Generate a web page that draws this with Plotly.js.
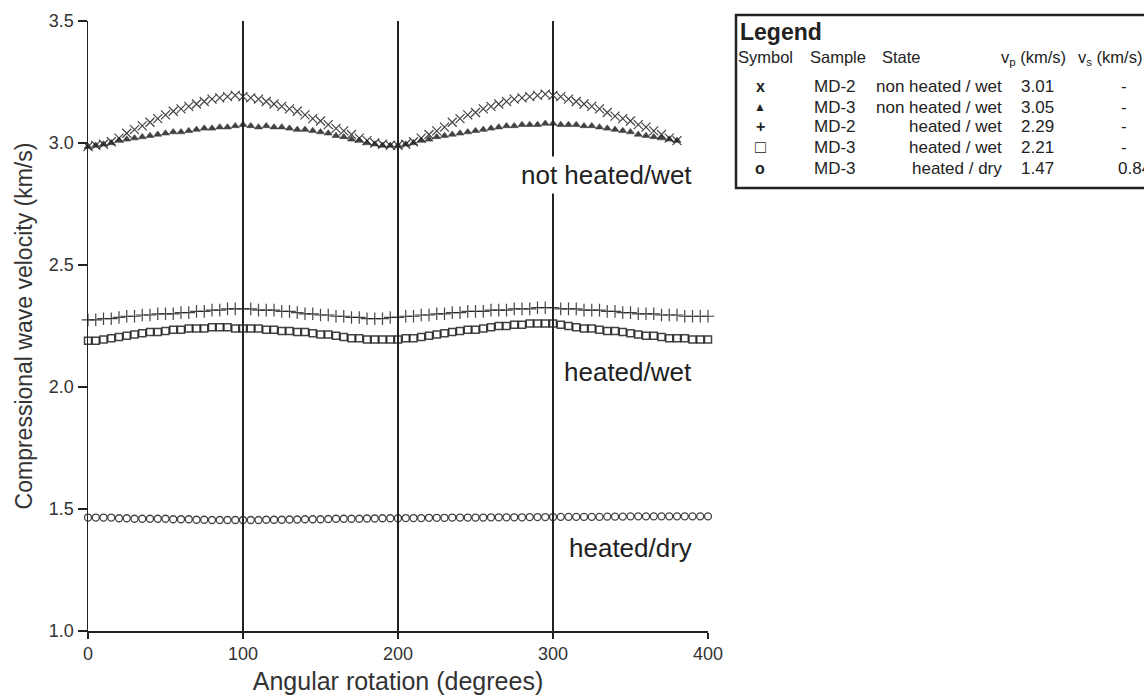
<!DOCTYPE html>
<html>
<head>
<meta charset="utf-8">
<script src="https://cdn.plot.ly/plotly-3.0.1.min.js"></script>
<style>
  html, body { margin: 0; padding: 0; background: #fff; }
  #chart { width: 1144px; height: 699px; }
</style>
</head>
<body>
<div id="chart"></div>
<script>
// Rotation angles (degrees) at which velocities were measured
const anglesWet = [0,5,10,15,20,25,30,35,40,45,50,55,60,65,70,75,80,85,90,95,100,105,110,115,120,125,130,135,140,145,150,155,160,165,170,175,180,185,190,195,200,205,210,215,220,225,230,235,240,245,250,255,260,265,270,275,280,285,290,295,300,305,310,315,320,325,330,335,340,345,350,355,360,365,370,375,380];
const anglesHeated = [0,5,10,15,20,25,30,35,40,45,50,55,60,65,70,75,80,85,90,95,100,105,110,115,120,125,130,135,140,145,150,155,160,165,170,175,180,185,190,195,200,205,210,215,220,225,230,235,240,245,250,255,260,265,270,275,280,285,290,295,300,305,310,315,320,325,330,335,340,345,350,355,360,365,370,375,380,385,390,395,400];

// MD-2, non heated / wet (x)
const vpMD2Wet = [2.985,2.99,2.995,3.005,3.02,3.04,3.055,3.07,3.085,3.10,3.115,3.13,3.14,3.15,3.16,3.17,3.18,3.185,3.19,3.195,3.19,3.185,3.18,3.17,3.16,3.15,3.14,3.13,3.115,3.10,3.09,3.075,3.06,3.05,3.035,3.02,3.01,3.0,2.995,2.99,2.99,2.995,3.005,3.02,3.035,3.05,3.065,3.085,3.10,3.115,3.125,3.14,3.15,3.16,3.17,3.18,3.185,3.19,3.195,3.2,3.195,3.19,3.18,3.17,3.16,3.15,3.14,3.125,3.11,3.10,3.09,3.075,3.065,3.05,3.035,3.02,3.01];
// MD-3, non heated / wet (triangle)
const vpMD3Wet = [2.985,2.99,2.995,3.0,3.01,3.015,3.02,3.025,3.03,3.035,3.04,3.045,3.045,3.05,3.055,3.06,3.06,3.065,3.065,3.07,3.075,3.07,3.065,3.07,3.065,3.065,3.06,3.055,3.055,3.05,3.045,3.04,3.03,3.025,3.015,3.01,3.0,2.995,2.99,2.99,2.99,2.995,3.0,3.01,3.015,3.025,3.03,3.035,3.04,3.045,3.05,3.055,3.06,3.065,3.07,3.07,3.075,3.075,3.075,3.08,3.08,3.075,3.075,3.075,3.07,3.07,3.065,3.06,3.055,3.05,3.045,3.035,3.03,3.025,3.02,3.015,3.01];
// MD-2, heated / wet (+)
const vpMD2Heated = [2.275,2.275,2.28,2.28,2.285,2.29,2.29,2.295,2.295,2.30,2.30,2.30,2.305,2.305,2.31,2.31,2.315,2.315,2.32,2.32,2.32,2.32,2.315,2.315,2.315,2.31,2.31,2.305,2.30,2.30,2.295,2.295,2.29,2.29,2.285,2.285,2.28,2.28,2.28,2.285,2.285,2.29,2.29,2.295,2.295,2.30,2.30,2.305,2.305,2.31,2.31,2.31,2.315,2.315,2.315,2.32,2.32,2.32,2.325,2.325,2.325,2.32,2.32,2.32,2.315,2.315,2.315,2.31,2.31,2.305,2.305,2.30,2.30,2.30,2.295,2.295,2.295,2.29,2.29,2.29,2.29];
// MD-3, heated / wet (square)
const vpMD3Heated = [2.19,2.19,2.195,2.20,2.205,2.21,2.215,2.22,2.225,2.225,2.23,2.235,2.235,2.24,2.24,2.24,2.245,2.245,2.245,2.24,2.24,2.24,2.24,2.235,2.235,2.23,2.23,2.225,2.225,2.22,2.215,2.215,2.21,2.205,2.20,2.20,2.195,2.195,2.195,2.195,2.195,2.20,2.20,2.205,2.21,2.215,2.22,2.225,2.23,2.235,2.235,2.24,2.245,2.25,2.25,2.255,2.255,2.26,2.26,2.26,2.26,2.255,2.25,2.245,2.24,2.24,2.235,2.23,2.23,2.225,2.22,2.215,2.21,2.21,2.205,2.20,2.20,2.20,2.195,2.195,2.195];
// MD-3, heated / dry (circle)
const vpMD3Dry = [1.465,1.465,1.465,1.465,1.462,1.462,1.46,1.46,1.46,1.46,1.46,1.458,1.458,1.458,1.456,1.456,1.455,1.455,1.455,1.455,1.455,1.455,1.455,1.456,1.456,1.456,1.457,1.457,1.458,1.458,1.458,1.459,1.46,1.46,1.46,1.46,1.461,1.461,1.462,1.462,1.462,1.463,1.463,1.463,1.464,1.464,1.464,1.465,1.465,1.465,1.465,1.465,1.466,1.466,1.466,1.466,1.466,1.467,1.467,1.467,1.467,1.468,1.468,1.468,1.468,1.468,1.468,1.469,1.469,1.469,1.47,1.47,1.47,1.47,1.47,1.47,1.47,1.47,1.47,1.47,1.47];

// Legend table contents
const legendSymbols = ['x', '\u25B2', '+', '\u25A1', 'o'];
const legendSamples = ['MD-2', 'MD-3', 'MD-2', 'MD-3', 'MD-3'];
const legendStates = ['non heated / wet', 'non heated / wet', 'heated / wet', 'heated / wet', 'heated / dry'];
const legendVp = ['3.01', '3.05', '2.29', '2.21', '1.47'];
const legendVs = ['-', '-', '-', '-', '0.84'];

// Group labels placed next to the curves
const groupLabels = ['not heated/wet', 'heated/wet', 'heated/dry'];
const groupLabelY = [2.87, 2.06, 1.34];

const INK = '#222';
const FONT = 'Liberation Sans, Arial, Helvetica, sans-serif';

function band(x, y, symbol, size, width) {
  return {
    type: 'scatter', mode: 'markers', x: x, y: y, showlegend: false,
    hoverinfo: 'skip', cliponaxis: false,
    marker: { symbol: symbol, size: size, color: INK, opacity: 0.85,
              line: { color: INK, width: width } }
  };
}

const traces = [
  band(anglesWet, vpMD2Wet, 'x-thin-open', 9, 1.2),
  band(anglesWet, vpMD3Wet, 'triangle-up', 7, 0.6),
  band(anglesHeated, vpMD2Heated, 'cross-thin-open', 9, 1.2),
  band(anglesHeated, vpMD3Heated, 'square-open', 7, 1.5),
  band(anglesHeated, vpMD3Dry, 'circle-open', 7, 1.3)
];

// plot area in pixels
const L = 88, R = 708, T = 21, B = 631, W = 1144, H = 699;
const pxX = v => (v - L) / (R - L);
const pxY = v => (B - v) / (B - T);

const annotations = [];
groupLabels.forEach((t, i) => {
  annotations.push({
    x: 392, y: groupLabelY[i], xref: 'x', yref: 'y', text: t, showarrow: false,
    xanchor: 'right', yanchor: 'middle', bgcolor: '#fff', borderpad: 3,
    font: { family: FONT, size: 26, color: INK }
  });
});

function legText(x, y, text, anchor, size) {
  annotations.push({
    x: pxX(x), y: pxY(y), xref: 'paper', yref: 'paper', text: text,
    showarrow: false, xanchor: anchor, yanchor: 'middle',
    font: { family: FONT, size: size, color: INK }
  });
}

legText(738, 32, '<b>Legend</b>', 'left', 23);
legText(736, 57, 'Symbol', 'left', 16.5);
legText(808, 57, 'Sample', 'left', 16.5);
legText(880, 57, 'State', 'left', 16.5);
legText(999, 58, 'v<sub>p</sub> (km/s)', 'left', 16.5);
legText(1076, 58, 'v<sub>s</sub> (km/s)', 'left', 16.5);
const rowY = [87, 107, 127, 147, 168];
legendSymbols.forEach((s, i) => {
  legText(760, rowY[i], '<b>' + s + '</b>', 'center', i === 1 ? 12 : (i === 3 ? 18 : 16));
  legText(812, rowY[i], legendSamples[i], 'left', 17);
  legText(1004, rowY[i], legendStates[i], 'right', 17);
  legText(1019, rowY[i], legendVp[i], 'left', 17);
  if (legendVs[i] === '-') legText(1124, rowY[i], legendVs[i], 'center', 17);
  else legText(1116, rowY[i], legendVs[i], 'left', 17);
});

const layout = {
  width: W, height: H,
  margin: { l: L, r: W - R, t: T, b: H - B, pad: 0 },
  paper_bgcolor: '#fff', plot_bgcolor: '#fff',
  font: { family: FONT, color: INK },
  xaxis: {
    range: [0, 400], tickvals: [0, 100, 200, 300, 400], ticktext: ['0', '100', '200', '300', '400'],
    showline: true, linecolor: INK, linewidth: 1.5, mirror: false,
    showgrid: true, gridcolor: INK, gridwidth: 1.5, zeroline: false,
    ticks: 'outside', ticklen: 6, tickcolor: INK, tickwidth: 1.5,
    tickfont: { family: FONT, size: 18, color: '#333' },
    title: { text: 'Angular rotation (degrees)', standoff: 9,
             font: { family: FONT, size: 25, color: '#333' } }
  },
  yaxis: {
    range: [1.0, 3.5], tickvals: [1.0, 1.5, 2.0, 2.5, 3.0, 3.5],
    ticktext: ['1.0', '1.5', '2.0', '2.5', '3.0', '3.5'],
    showline: true, linecolor: INK, linewidth: 1.5,
    showgrid: false, zeroline: false,
    ticks: 'outside', ticklen: 9, tickcolor: INK, tickwidth: 1.5,
    tickfont: { family: FONT, size: 18, color: '#333' },
    title: { text: 'Compressional wave velocity (km/s)', standoff: 10,
             font: { family: FONT, size: 23, color: '#333' } }
  },
  shapes: [
    { type: 'rect', xref: 'paper', yref: 'paper',
      x0: pxX(736), x1: pxX(1160), y0: pxY(188), y1: pxY(15),
      line: { color: INK, width: 2.5 }, fillcolor: 'rgba(0,0,0,0)' }
  ],
  annotations: annotations,
  showlegend: false
};

Plotly.newPlot('chart', traces, layout, { staticPlot: true, displayModeBar: false });
</script>
</body>
</html>
